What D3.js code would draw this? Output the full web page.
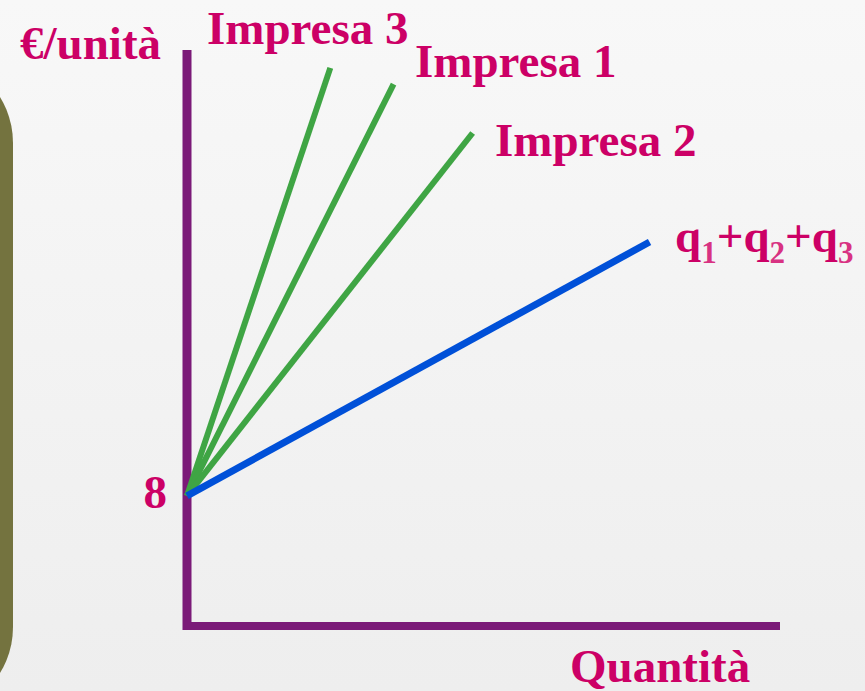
<!DOCTYPE html>
<html>
<head>
<meta charset="utf-8">
<script src="https://cdn.jsdelivr.net/npm/d3@7"></script>
<style>
  html, body { margin: 0; padding: 0; overflow: hidden; }
  svg { display: block; }
</style>
</head>
<body>
<script>
// Offerta delle singole imprese e offerta aggregata (somma orizzontale)
const series = ["Impresa 3", "Impresa 1", "Impresa 2", "q1+q2+q3"];
const startPoint = { q: 0, p: 8 };              // tutte le curve partono da p = 8
const endQuantity = [14.5, 20.9, 28.9, 46.8];   // quantità al termine di ogni curva
const endPrice = [34.3, 33.3, 30.3, 23.6];      // prezzo al termine di ogni curva
const yTicks = [8];
const axisMax = { q: 60, p: 35.4 };

const W = 865, H = 691;
const red = "#cc0066";
const font = "'Liberation Serif', 'Times New Roman', serif";

const svg = d3.select("body").append("svg").attr("width", W).attr("height", H);

const defs = svg.append("defs");
const grad = defs.append("linearGradient").attr("id", "bg")
  .attr("x1", 0).attr("y1", 0).attr("x2", 0).attr("y2", 1);
grad.append("stop").attr("offset", "0%").attr("stop-color", "#f8f8f8");
grad.append("stop").attr("offset", "100%").attr("stop-color", "#eeeeee");
svg.append("rect").attr("width", W).attr("height", H).attr("fill", "url(#bg)");

// pannello decorativo sul bordo sinistro
svg.append("rect")
  .attr("x", 13 - 200).attr("y", 55).attr("width", 200).attr("height", 660)
  .attr("rx", 88).attr("ry", 88).attr("fill", "#74733f");

const x = d3.scaleLinear().domain([0, axisMax.q]).range([187, 780]);
const y = d3.scaleLinear().domain([0, axisMax.p]).range([626, 50]);

// assi
const axisColor = "#7b1a78";
svg.append("line")
  .attr("x1", x(0)).attr("x2", x(0))
  .attr("y1", y(axisMax.p)).attr("y2", y(0) + 4)
  .attr("stroke", axisColor).attr("stroke-width", 9);
svg.append("line")
  .attr("x1", x(0) - 4).attr("x2", x(axisMax.q))
  .attr("y1", y(0)).attr("y2", y(0))
  .attr("stroke", axisColor).attr("stroke-width", 8);

// curve di offerta
const data = series.map((name, i) => ({
  name,
  pts: [startPoint, { q: endQuantity[i], p: endPrice[i] }],
  total: i === series.length - 1
}));

const line = d3.line().x(d => x(d.q)).y(d => y(d.p));

svg.append("g").selectAll("path")
  .data(data.filter(d => !d.total))
  .join("path")
  .attr("d", d => line(d.pts))
  .attr("fill", "none")
  .attr("stroke", "#3fa544")
  .attr("stroke-width", 6)
  .attr("stroke-linecap", "butt");

svg.append("g").selectAll("path")
  .data(data.filter(d => d.total))
  .join("path")
  .attr("d", d => line(d.pts))
  .attr("fill", "none")
  .attr("stroke", "#0050d8")
  .attr("stroke-width", 7)
  .attr("stroke-linecap", "butt");

// etichette
const label = (tx, ty, text, anchor) => svg.append("text")
  .attr("x", tx).attr("y", ty)
  .attr("text-anchor", anchor || "start")
  .attr("font-family", font).attr("font-weight", "bold")
  .attr("font-size", 47).attr("fill", red)
  .text(text);

label(20, 59, "€/unità");
label(570, 682, "Quantità");
yTicks.forEach(t => label(x(0) - 20, y(t) + 12, String(t), "end"));

label(207, 44, series[0]);
label(415, 77, series[1]);
label(495, 156, series[2]);

// etichetta della curva aggregata con pedici
const tot = svg.append("text")
  .attr("x", 675).attr("y", 252)
  .attr("font-family", font).attr("font-weight", "bold")
  .attr("font-size", 47).attr("fill", red);
["1", "2", "3"].forEach((s, i) => {
  tot.append("tspan").attr("dy", i === 0 ? 0 : -11).text((i === 0 ? "" : "+") + "q");
  tot.append("tspan").attr("dy", 11).attr("font-size", 31).attr("fill", "#d83282").text(s);
});
</script>
</body>
</html>
